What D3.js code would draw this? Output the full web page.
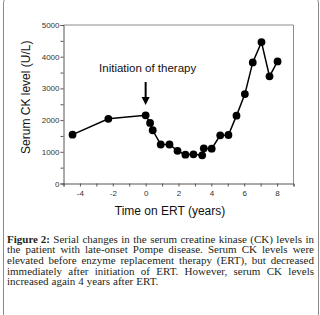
<!DOCTYPE html>
<html><head><meta charset="utf-8">
<script src="https://cdn.jsdelivr.net/npm/d3@7"></script>
<style>body{margin:0;background:#fff}svg{display:block}</style>
</head><body>
<svg id="c" width="320" height="315"></svg>
<script>
const years = [-4.45, -2.27, 0, 0.27, 0.43, 0.92, 1.45, 1.94, 2.42, 2.91, 3.44, 3.54, 4.02, 4.54, 5.04, 5.53, 6.04, 6.52, 7.05, 7.54, 8.03];
const ckLevels = [1540, 2040, 2150, 1910, 1680, 1230, 1230, 1030, 910, 920, 890, 1110, 1100, 1520, 1530, 2140, 2820, 3820, 4460, 3380, 3850];
const yTickValues = [0, 1000, 2000, 3000, 4000, 5000];
const xTickValues = [-4, -2, 0, 2, 4, 6, 8];
const annotation = "Initiation of therapy";
const yTitle = "Serum CK level  (U/L)";
const xTitle = "Time on ERT (years)";
const captionLines = [
  ["Figure 2:", "Serial changes in the serum creatine kinase (CK) levels in"],
  ["", "the patient with late-onset Pompe disease. Serum CK levels were"],
  ["", "elevated before enzyme replacement therapy (ERT), but decreased"],
  ["", "immediately after initiation of ERT. However, serum CK levels"],
  ["", "increased again 4 years after ERT."]
];

const svg = d3.select("#c");
// outer frame
svg.append("rect").attr("x", 3.5).attr("y", -3).attr("width", 315).attr("height", 330)
  .attr("rx", 6).attr("fill", "none").attr("stroke", "#8a8a8a").attr("stroke-width", 1);

const L = 63.5, R = 293.5, T = 25, B = 183.5;
const x = d3.scaleLinear().domain([-5, 9]).range([L, R]);
const y = d3.scaleLinear().domain([0, 5000]).range([B, T]);

// plot frame (top/right)
svg.append("path").attr("d", `M${L},${T}H${R}V${B}`).attr("fill", "none").attr("stroke", "#8c8c8c");

const font = "Arial, 'Liberation Sans', sans-serif";
const yAxis = d3.axisLeft(y).tickValues(d3.range(0, 5001, 500)).tickSize(3)
  .tickFormat(d => yTickValues.includes(d) ? d : "");
const gy = svg.append("g").attr("transform", `translate(${L},0)`).call(yAxis);
const xAxis = d3.axisBottom(x).tickValues(d3.range(-5, 10, 1)).tickSize(3)
  .tickFormat(d => xTickValues.includes(d) ? d : "");
const gx = svg.append("g").attr("transform", `translate(0,${B})`).call(xAxis);
[gx, gy].forEach(g => {
  g.select(".domain").attr("stroke", "#555");
  g.selectAll(".tick line").attr("stroke", "#555");
  g.selectAll(".tick text").attr("fill", "#333").style("font-family", font).style("font-size", "8px");
});
gy.selectAll(".tick text").attr("x", -4);
gx.selectAll(".tick text").attr("y", 7);

const line = d3.line().x((d, i) => x(years[i])).y(d => y(d));
svg.append("path").datum(ckLevels).attr("d", line).attr("fill", "none").attr("stroke", "#000").attr("stroke-width", 1.5);
svg.selectAll("circle.pt").data(ckLevels).join("circle").attr("class", "pt")
  .attr("cx", (d, i) => x(years[i])).attr("cy", d => y(d)).attr("r", 3.9).attr("fill", "#000");

// annotation
svg.append("text").attr("x", x(0) + 2).attr("y", 72).attr("text-anchor", "middle")
  .style("font-family", font).style("font-size", "11.5px").attr("fill", "#111").text(annotation);
const ax = x(0);
svg.append("line").attr("x1", ax).attr("x2", ax).attr("y1", 82).attr("y2", 100).attr("stroke", "#000").attr("stroke-width", 2);
svg.append("path").attr("d", `M${ax - 4},${97}L${ax + 4},${97}L${ax},${105}Z`).attr("fill", "#000");

// axis titles
svg.append("text").attr("transform", `translate(30,${(T + B) / 2 - 7}) rotate(-90)`).attr("text-anchor", "middle")
  .style("font-family", font).style("font-size", "12px").attr("fill", "#111").text(yTitle);
svg.append("text").attr("x", 170).attr("y", 215).attr("text-anchor", "middle")
  .style("font-family", font).style("font-size", "12px").attr("fill", "#111").text(xTitle);

// caption (justified)
const capL = 7, capR = 314, base0 = 242.5, lh = 10.7;
const serif = "'Liberation Serif', 'DejaVu Serif', serif";
captionLines.forEach((ln, i) => {
  const yy = base0 + i * lh;
  const words = [];
  if (ln[0]) words.push({t: ln[0], bold: true});
  ln[1].split(" ").forEach(w => words.push({t: w, bold: false}));
  const nodes = words.map(w => svg.append("text").attr("y", yy)
    .style("font-family", serif).style("font-size", "11px")
    .style("font-weight", w.bold ? "bold" : "normal").attr("fill", "#231f20").text(w.t));
  const widths = nodes.map(n => n.node().getComputedTextLength());
  const total = d3.sum(widths);
  const last = i === captionLines.length - 1;
  const gap = last ? 3 : (capR - capL - total) / (words.length - 1);
  let cx = capL;
  nodes.forEach((n, j) => { n.attr("x", cx); cx += widths[j] + gap; });
});
</script>
</body></html>
